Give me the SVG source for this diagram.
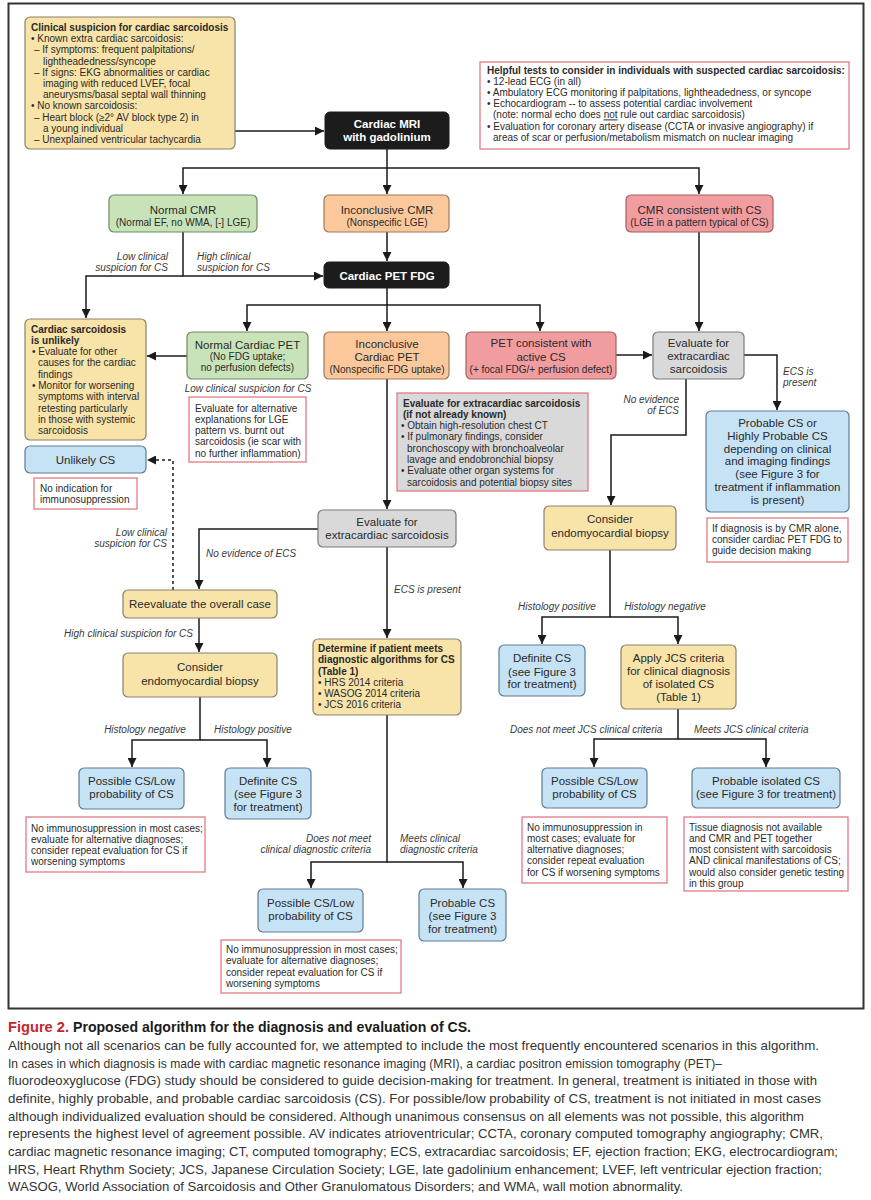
<svg xmlns="http://www.w3.org/2000/svg" width="871" height="1200" viewBox="0 0 871 1200">
<style>
text{font-family:"Liberation Sans",Arial,Helvetica,sans-serif;fill:#2a2a2a}
.n{font-size:11.5px;text-anchor:middle}
.s{font-size:10px;text-anchor:middle}
.p{font-size:10px}
.b{font-weight:bold}
.w{fill:#fff}
.i{font-style:italic;font-size:10px;fill:#3a3a3a}
.e{text-anchor:end}
.m{text-anchor:middle}
.yel{fill:#f8e3a9;stroke:#8a8170;stroke-width:1.2}
.grn{fill:#c9e3b9;stroke:#6e8a66;stroke-width:1.2}
.org{fill:#fbc89c;stroke:#9d7a5c;stroke-width:1.2}
.red{fill:#f19c9f;stroke:#a3605f;stroke-width:1.2}
.gry{fill:#d9d9d9;stroke:#7a7a7a;stroke-width:1.2}
.blu{fill:#c6e2f5;stroke:#5e7d92;stroke-width:1.2}
.blk{fill:#1c1c1c;stroke:#1c1c1c}
.note{fill:#fff;stroke:#e07b84;stroke-width:1.3}
.gnote{fill:#d9d9d9;stroke:#e07b84;stroke-width:1.3}
.c{fill:none;stroke:#1a1a1a;stroke-width:1.5}
.d{stroke-dasharray:3,3}
.cap{font-size:13px;fill:#333}
.cph{font-size:14px}
</style>
<defs>
<marker id="ah" viewBox="0 0 10 10" refX="10" refY="5" markerWidth="9" markerHeight="9" markerUnits="userSpaceOnUse" orient="auto"><path d="M0,0 L10,5 L0,10 z" fill="#1a1a1a"/></marker>
</defs>
<rect x="0" y="0" width="871" height="1200" fill="#fff"/>
<rect x="8.5" y="3.5" width="855" height="1005" fill="none" stroke="#333" stroke-width="2"/>

<g id="connectors">
<path class="c" d="M235,131 H324" marker-end="url(#ah)"/>
<path class="c" d="M387,149 V194" marker-end="url(#ah)"/>
<path class="c" d="M387,168 H183 V194" marker-end="url(#ah)"/>
<path class="c" d="M387,168 H699 V194" marker-end="url(#ah)"/>
<path class="c" d="M183,232 V276 H323" marker-end="url(#ah)"/>
<path class="c" d="M183,276 H86 V318" marker-end="url(#ah)"/>
<path class="c" d="M387,232 V261" marker-end="url(#ah)"/>
<path class="c" d="M699,232 V331" marker-end="url(#ah)"/>
<path class="c" d="M387,288 V331" marker-end="url(#ah)"/>
<path class="c" d="M387,305 H247 V331" marker-end="url(#ah)"/>
<path class="c" d="M387,305 H540 V331" marker-end="url(#ah)"/>
<path class="c" d="M187,356 H147" marker-end="url(#ah)"/>
<path class="c" d="M616,355 H652" marker-end="url(#ah)"/>
<path class="c" d="M744,355 H777 V410" marker-end="url(#ah)"/>
<path class="c" d="M686,379 V435 H611 V505" marker-end="url(#ah)"/>
<path class="c" d="M387,379 V509" marker-end="url(#ah)"/>
<path class="c" d="M318,529 H199 V589" marker-end="url(#ah)"/>
<path class="c" d="M387,547 V638" marker-end="url(#ah)"/>
<path class="c d" d="M173,590 V460 H147" marker-end="url(#ah)"/>
<path class="c" d="M199,618 V652" marker-end="url(#ah)"/>
<path class="c" d="M200,697 V740 H132 V767" marker-end="url(#ah)"/>
<path class="c" d="M200,740 H267 V767" marker-end="url(#ah)"/>
<path class="c" d="M387,715 V862 H311 V888" marker-end="url(#ah)"/>
<path class="c" d="M387,862 H463 V888" marker-end="url(#ah)"/>
<path class="c" d="M610,550 V617 H542 V644" marker-end="url(#ah)"/>
<path class="c" d="M610,617 H678 V644" marker-end="url(#ah)"/>
<path class="c" d="M678,709 V739 H594 V767" marker-end="url(#ah)"/>
<path class="c" d="M678,739 H766 V767" marker-end="url(#ah)"/>
</g>

<g id="edge-labels">
<text class="i e" x="168" y="259.5">Low clinical</text>
<text class="i e" x="168" y="270.5">suspicion for CS</text>
<text class="i" x="197" y="259.5">High clinical</text>
<text class="i" x="197" y="270.5">suspicion for CS</text>
<text class="i m" x="248" y="391.5">Low clinical suspicion for CS</text>
<text class="i" x="783" y="374.5">ECS is</text>
<text class="i" x="783" y="385.5">present</text>
<text class="i e" x="679" y="402.5">No evidence</text>
<text class="i e" x="679" y="413.5">of ECS</text>
<text class="i e" x="167" y="535.5">Low clinical</text>
<text class="i e" x="167" y="546.5">suspicion for CS</text>
<text class="i" x="206" y="556.5">No evidence of ECS</text>
<text class="i" x="394" y="592.5">ECS is present</text>
<text class="i e" x="193" y="636.5">High clinical suspicion for CS</text>
<text class="i m" x="145" y="732.5">Histology negative</text>
<text class="i m" x="253" y="732.5">Histology positive</text>
<text class="i m" x="557" y="609.5">Histology positive</text>
<text class="i m" x="665" y="609.5">Histology negative</text>
<text class="i" x="510" y="732.5">Does not meet JCS clinical criteria</text>
<text class="i" x="694" y="732.5">Meets JCS clinical criteria</text>
<text class="i e" x="371" y="841.5">Does not meet</text>
<text class="i e" x="371" y="853">clinical diagnostic criteria</text>
<text class="i" x="400" y="841.5">Meets clinical</text>
<text class="i" x="400" y="853">diagnostic criteria</text>
</g>

<g id="clinical-suspicion">
<rect class="yel" x="25" y="17" width="210" height="132" rx="5"/>
<text class="p b" x="31" y="31">Clinical suspicion for cardiac sarcoidosis</text>
<text class="p" x="31" y="42.2">• Known extra cardiac sarcoidosis:</text>
<text class="p" x="34" y="53.4">– If symptoms: frequent palpitations/</text>
<text class="p" x="43" y="64.6">lightheadedness/syncope</text>
<text class="p" x="34" y="75.8">– If signs: EKG abnormalities or cardiac</text>
<text class="p" x="43" y="87">imaging with reduced LVEF, focal</text>
<text class="p" x="43" y="98.2">aneurysms/basal septal wall thinning</text>
<text class="p" x="31" y="109.4">• No known sarcoidosis:</text>
<text class="p" x="34" y="120.6">– Heart block (≥2° AV block type 2) in</text>
<text class="p" x="43" y="131.8">a young individual</text>
<text class="p" x="34" y="143">– Unexplained ventricular tachycardia</text>
</g>

<g id="cardiac-mri">
<rect class="blk" x="325" y="112" width="124" height="37" rx="5"/>
<text class="n b w" x="387" y="128">Cardiac MRI</text>
<text class="n b w" x="387" y="141">with gadolinium</text>
</g>

<g id="helpful-tests">
<rect class="note" x="480" y="62" width="369" height="87"/>
<text class="p b" x="487" y="74">Helpful tests to consider in individuals with suspected cardiac sarcoidosis:</text>
<text class="p" x="487" y="85.1">• 12-lead ECG (in all)</text>
<text class="p" x="487" y="96.2">• Ambulatory ECG monitoring if palpitations, lightheadedness, or syncope</text>
<text class="p" x="487" y="107.3">• Echocardiogram -- to assess potential cardiac involvement</text>
<text class="p" x="493" y="118.4">(note: normal echo does <tspan text-decoration="underline">not</tspan> rule out cardiac sarcoidosis)</text>
<text class="p" x="487" y="129.5">• Evaluation for coronary artery disease (CCTA or invasive angiography) if</text>
<text class="p" x="493" y="140.6">areas of scar or perfusion/metabolism mismatch on nuclear imaging</text>
</g>

<g id="normal-cmr">
<rect class="grn" x="109" y="195" width="148" height="37" rx="5"/>
<text class="n" x="183" y="214">Normal CMR</text>
<text class="s" x="183" y="225.5">(Normal EF, no WMA, [-] LGE)</text>
</g>
<g id="inconclusive-cmr">
<rect class="org" x="324" y="195" width="125" height="37" rx="5"/>
<text class="n" x="387" y="214">Inconclusive CMR</text>
<text class="s" x="387" y="225.5">(Nonspecific LGE)</text>
</g>
<g id="cmr-consistent">
<rect class="red" x="626" y="195" width="147" height="37" rx="5"/>
<text class="n" x="699.5" y="214">CMR consistent with CS</text>
<text class="s" x="699.5" y="225.5">(LGE in a pattern typical of CS)</text>
</g>

<g id="cardiac-pet-fdg">
<rect class="blk" x="324" y="262" width="125" height="26" rx="5"/>
<text class="n b w" x="387" y="279.5">Cardiac PET FDG</text>
</g>

<g id="cs-unlikely">
<rect class="yel" x="25" y="319" width="121" height="121" rx="5"/>
<text class="p b" x="31" y="332.5">Cardiac sarcoidosis</text>
<text class="p b" x="31" y="343.8">is unlikely</text>
<text class="p" x="32" y="355.1">• Evaluate for other</text>
<text class="p" x="38" y="366.4">causes for the cardiac</text>
<text class="p" x="38" y="377.7">findings</text>
<text class="p" x="32" y="389">• Monitor for worsening</text>
<text class="p" x="38" y="400.3">symptoms with interval</text>
<text class="p" x="38" y="411.6">retesting particularly</text>
<text class="p" x="38" y="422.9">in those with systemic</text>
<text class="p" x="38" y="434.2">sarcoidosis</text>
</g>

<g id="normal-pet">
<rect class="grn" x="187" y="332" width="121" height="47" rx="5"/>
<text class="n" x="247.5" y="349">Normal Cardiac PET</text>
<text class="s" x="247.5" y="360">(No FDG uptake;</text>
<text class="s" x="247.5" y="371">no perfusion defects)</text>
</g>
<g id="inconclusive-pet">
<rect class="org" x="324" y="332" width="125" height="47" rx="5"/>
<text class="n" x="387" y="348">Inconclusive</text>
<text class="n" x="387" y="361">Cardiac PET</text>
<text class="s" x="387" y="373">(Nonspecific FDG uptake)</text>
</g>
<g id="pet-consistent">
<rect class="red" x="466" y="332" width="150" height="47" rx="5"/>
<text class="n" x="541" y="347">PET consistent with</text>
<text class="n" x="541" y="361">active CS</text>
<text class="s" x="541" y="373">(+ focal FDG/+ perfusion defect)</text>
</g>
<g id="evaluate-ecs-right">
<rect class="gry" x="653" y="332" width="91" height="47" rx="5"/>
<text class="n" x="698.5" y="347">Evaluate for</text>
<text class="n" x="698.5" y="360">extracardiac</text>
<text class="n" x="698.5" y="373">sarcoidosis</text>
</g>

<g id="note-alternative">
<rect class="note" x="189" y="397" width="117" height="65"/>
<text class="p" x="195" y="411.5">Evaluate for alternative</text>
<text class="p" x="195" y="422.8">explanations for LGE</text>
<text class="p" x="195" y="434.1">pattern vs. burnt out</text>
<text class="p" x="195" y="445.4">sarcoidosis (ie scar with</text>
<text class="p" x="195" y="456.7">no further inflammation)</text>
</g>

<g id="note-evaluate-ecs">
<rect class="gnote" x="397" y="393" width="191" height="98"/>
<text class="p b" x="403" y="406.5">Evaluate for extracardiac sarcoidosis</text>
<text class="p b" x="403" y="417.8">(if not already known)</text>
<text class="p" x="401" y="429.1">• Obtain high-resolution chest CT</text>
<text class="p" x="401" y="440.4">• If pulmonary findings, consider</text>
<text class="p" x="407" y="451.7">bronchoscopy with bronchoalveolar</text>
<text class="p" x="407" y="463">lavage and endobronchial biopsy</text>
<text class="p" x="401" y="474.3">• Evaluate other organ systems for</text>
<text class="p" x="407" y="485.6">sarcoidosis and potential biopsy sites</text>
</g>

<g id="probable-highly-probable">
<rect class="blu" x="706" y="411" width="143" height="101" rx="5"/>
<text class="n" x="777.5" y="427">Probable CS or</text>
<text class="n" x="777.5" y="439.8">Highly Probable CS</text>
<text class="n" x="777.5" y="452.6">depending on clinical</text>
<text class="n" x="777.5" y="465.4">and imaging findings</text>
<text class="n" x="777.5" y="478.2">(see Figure 3 for</text>
<text class="n" x="777.5" y="491">treatment if inflammation</text>
<text class="n" x="777.5" y="503.8">is present)</text>
</g>

<g id="note-cmr-alone">
<rect class="note" x="707" y="518" width="141" height="44"/>
<text class="p" x="712" y="531.5">If diagnosis is by CMR alone,</text>
<text class="p" x="712" y="542.8">consider cardiac PET FDG to</text>
<text class="p" x="712" y="554.1">guide decision making</text>
</g>

<g id="unlikely-cs">
<rect class="blu" x="25" y="446" width="121" height="27" rx="5"/>
<text class="n" x="85.5" y="463.5">Unlikely CS</text>
</g>
<g id="note-no-indication">
<rect class="note" x="34" y="478" width="103" height="31"/>
<text class="p" x="40" y="491.5">No indication for</text>
<text class="p" x="40" y="502.8">immunosuppression</text>
</g>

<g id="evaluate-ecs-middle">
<rect class="gry" x="318" y="510" width="138" height="37" rx="5"/>
<text class="n" x="387" y="526">Evaluate for</text>
<text class="n" x="387" y="539">extracardiac sarcoidosis</text>
</g>

<g id="consider-biopsy-right">
<rect class="yel" x="544" y="506" width="132" height="44" rx="5"/>
<text class="n" x="610" y="523">Consider</text>
<text class="n" x="610" y="537">endomyocardial biopsy</text>
</g>

<g id="reevaluate">
<rect class="yel" x="123" y="590" width="154" height="28" rx="5"/>
<text class="n" x="200" y="607.5">Reevaluate the overall case</text>
</g>

<g id="consider-biopsy-left">
<rect class="yel" x="123" y="653" width="154" height="44" rx="5"/>
<text class="n" x="200" y="671">Consider</text>
<text class="n" x="200" y="684.5">endomyocardial biopsy</text>
</g>

<g id="determine">
<rect class="yel" x="313" y="639" width="148" height="76" rx="5"/>
<text class="p b" x="318" y="651.5">Determine if patient meets</text>
<text class="p b" x="318" y="663">diagnostic algorithms for CS</text>
<text class="p b" x="318" y="674.5">(Table 1)</text>
<text class="p" x="318" y="686">• HRS 2014 criteria</text>
<text class="p" x="318" y="697">• WASOG 2014 criteria</text>
<text class="p" x="318" y="708">• JCS 2016 criteria</text>
</g>

<g id="definite-cs-right">
<rect class="blu" x="499" y="645" width="86" height="51" rx="5"/>
<text class="n" x="542" y="662">Definite CS</text>
<text class="n" x="542" y="675.5">(see Figure 3</text>
<text class="n" x="542" y="688">for treatment)</text>
</g>

<g id="apply-jcs">
<rect class="yel" x="621" y="645" width="115" height="64" rx="5"/>
<text class="n" x="678.5" y="662">Apply JCS criteria</text>
<text class="n" x="678.5" y="675">for clinical diagnosis</text>
<text class="n" x="678.5" y="688">of isolated CS</text>
<text class="n" x="678.5" y="701">(Table 1)</text>
</g>

<g id="possible-cs-left">
<rect class="blu" x="79" y="768" width="105" height="41" rx="5"/>
<text class="n" x="131.5" y="785">Possible CS/Low</text>
<text class="n" x="131.5" y="798">probability of CS</text>
</g>
<g id="definite-cs-left">
<rect class="blu" x="225" y="768" width="86" height="51" rx="5"/>
<text class="n" x="268" y="785">Definite CS</text>
<text class="n" x="268" y="798">(see Figure 3</text>
<text class="n" x="268" y="811">for treatment)</text>
</g>
<g id="note-left">
<rect class="note" x="26" y="817" width="179" height="55"/>
<text class="p" x="31" y="831.5">No immunosuppression in most cases;</text>
<text class="p" x="31" y="842.8">evaluate for alternative diagnoses;</text>
<text class="p" x="31" y="854.1">consider repeat evaluation for CS if</text>
<text class="p" x="31" y="865.4">worsening symptoms</text>
</g>

<g id="possible-cs-right">
<rect class="blu" x="542" y="768" width="105" height="40" rx="5"/>
<text class="n" x="594.5" y="785">Possible CS/Low</text>
<text class="n" x="594.5" y="798">probability of CS</text>
</g>
<g id="probable-isolated">
<rect class="blu" x="692" y="768" width="148" height="40" rx="5"/>
<text class="n" x="766" y="785">Probable isolated CS</text>
<text class="n" x="766" y="798">(see Figure 3 for treatment)</text>
</g>
<g id="note-right-1">
<rect class="note" x="522" y="817" width="145" height="66"/>
<text class="p" x="527" y="830.5">No immunosuppression in</text>
<text class="p" x="527" y="841.8">most cases; evaluate for</text>
<text class="p" x="527" y="853.1">alternative diagnoses;</text>
<text class="p" x="527" y="864.4">consider repeat evaluation</text>
<text class="p" x="527" y="875.7">for CS if worsening symptoms</text>
</g>
<g id="note-right-2">
<rect class="note" x="684" y="817" width="164" height="74"/>
<text class="p" x="689" y="830.5">Tissue diagnosis not available</text>
<text class="p" x="689" y="841.8">and CMR and PET together</text>
<text class="p" x="689" y="853.1">most consistent with sarcoidosis</text>
<text class="p" x="689" y="864.4">AND clinical manifestations of CS;</text>
<text class="p" x="689" y="875.7">would also consider genetic testing</text>
<text class="p" x="689" y="887">in this group</text>
</g>

<g id="possible-cs-bottom">
<rect class="blu" x="258" y="889" width="105" height="43" rx="5"/>
<text class="n" x="310.5" y="907">Possible CS/Low</text>
<text class="n" x="310.5" y="920">probability of CS</text>
</g>
<g id="probable-cs-bottom">
<rect class="blu" x="419" y="889" width="87" height="52" rx="5"/>
<text class="n" x="462.5" y="907">Probable CS</text>
<text class="n" x="462.5" y="920">(see Figure 3</text>
<text class="n" x="462.5" y="932.5">for treatment)</text>
</g>
<g id="note-bottom">
<rect class="note" x="221" y="940" width="180" height="53"/>
<text class="p" x="226" y="953">No immunosuppression in most cases;</text>
<text class="p" x="226" y="964.3">evaluate for alternative diagnoses;</text>
<text class="p" x="226" y="975.6">consider repeat evaluation for CS if</text>
<text class="p" x="226" y="986.9">worsening symptoms</text>
</g>

<g id="caption">
<text class="cap cph b" x="8" y="1032" textLength="61" lengthAdjust="spacingAndGlyphs" style="fill:#c1272d">Figure 2.</text>
<text class="cap cph b" x="73" y="1032" textLength="398" lengthAdjust="spacingAndGlyphs" style="fill:#1a1a1a">Proposed algorithm for the diagnosis and evaluation of CS.</text>
<text class="cap" x="8" y="1050" textLength="811" lengthAdjust="spacingAndGlyphs">Although not all scenarios can be fully accounted for, we attempted to include the most frequently encountered scenarios in this algorithm.</text>
<text class="cap" x="8" y="1067.7" textLength="714" lengthAdjust="spacingAndGlyphs">In cases in which diagnosis is made with cardiac magnetic resonance imaging (MRI), a cardiac positron emission tomography (PET)–</text>
<text class="cap" x="8" y="1085.3" textLength="809" lengthAdjust="spacingAndGlyphs">fluorodeoxyglucose (FDG) study should be considered to guide decision-making for treatment. In general, treatment is initiated in those with</text>
<text class="cap" x="8" y="1103" textLength="813" lengthAdjust="spacingAndGlyphs">definite, highly probable, and probable cardiac sarcoidosis (CS). For possible/low probability of CS, treatment is not initiated in most cases</text>
<text class="cap" x="8" y="1120.6" textLength="796" lengthAdjust="spacingAndGlyphs">although individualized evaluation should be considered. Although unanimous consensus on all elements was not possible, this algorithm</text>
<text class="cap" x="8" y="1138.3" textLength="815" lengthAdjust="spacingAndGlyphs">represents the highest level of agreement possible. AV indicates atrioventricular; CCTA, coronary computed tomography angiography; CMR,</text>
<text class="cap" x="8" y="1156" textLength="830" lengthAdjust="spacingAndGlyphs">cardiac magnetic resonance imaging; CT, computed tomography; ECS, extracardiac sarcoidosis; EF, ejection fraction; EKG, electrocardiogram;</text>
<text class="cap" x="8" y="1173.6" textLength="814" lengthAdjust="spacingAndGlyphs">HRS, Heart Rhythm Society; JCS, Japanese Circulation Society; LGE, late gadolinium enhancement; LVEF, left ventricular ejection fraction;</text>
<text class="cap" x="8" y="1191.3" textLength="675" lengthAdjust="spacingAndGlyphs">WASOG, World Association of Sarcoidosis and Other Granulomatous Disorders; and WMA, wall motion abnormality.</text>
</g>
</svg>
